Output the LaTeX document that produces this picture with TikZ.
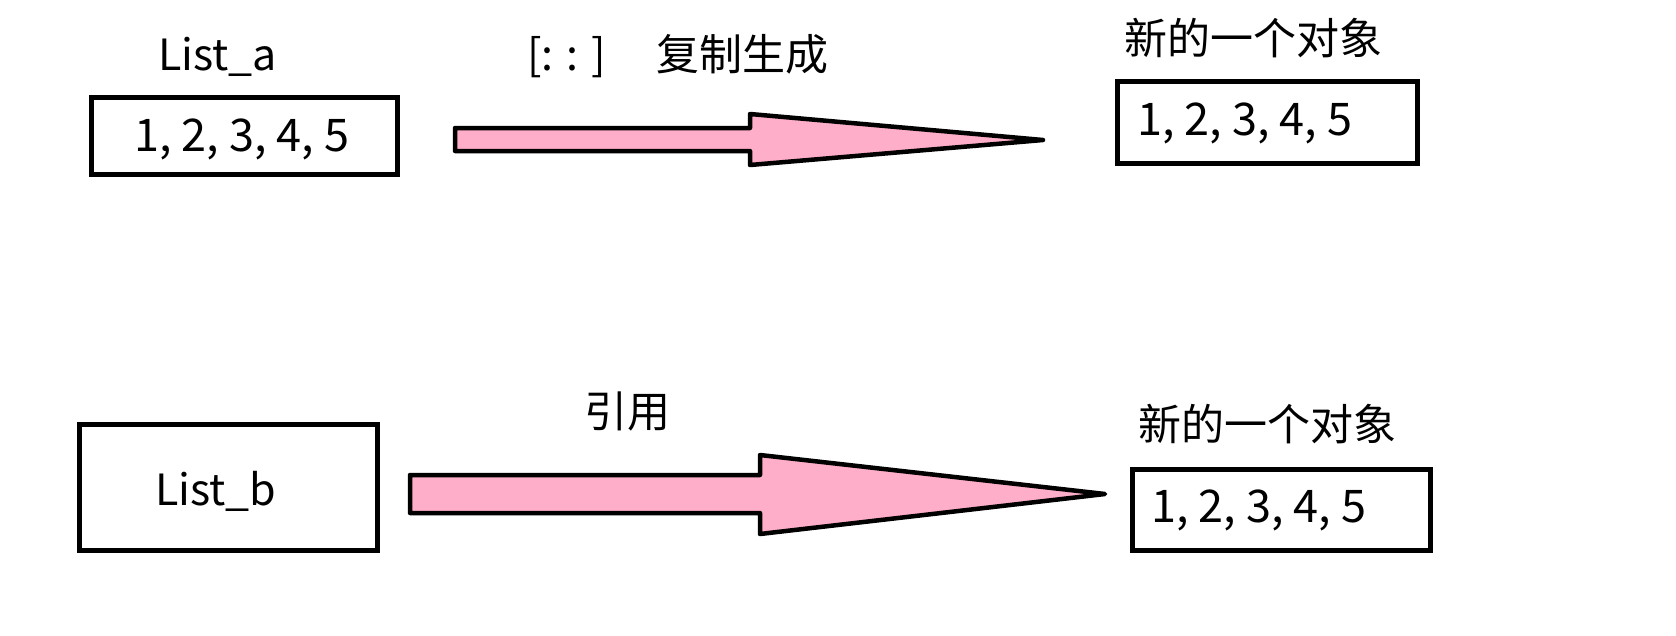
\documentclass[tikz,border=0pt]{standalone}
\usepackage{fontspec}
\setmainfont{Noto Sans CJK SC}
\definecolor{arrowpink}{RGB}{255,174,201}
\begin{document}
\begin{tikzpicture}[x=1pt,y=-1pt,
  lbl/.style={inner sep=0pt,anchor=base west,font=\fontsize{43}{50}\selectfont},
  num/.style={inner sep=0pt,anchor=base west,font=\fontsize{45}{52}\selectfont},
  frame/.style={draw=black,line width=5pt},
  blockarrow/.style={draw=black,fill=arrowpink,line width=4.5pt,line join=round}]
\path[use as bounding box,fill=white] (0,0) rectangle (1676,635);

% top row
\node[lbl] (lista) at (158,70) {List\_a};
\draw[frame] (91.5,97.5) rectangle (397.5,174.5);
\node[num] (numa) at (134,151) {1, 2, 3, 4, 5};

\node[lbl] (slice) at (527,70) {[: : ]};
\node[lbl] (copy) at (656,70) {复制生成};

\node[lbl] (newa) at (1124,54) {新的一个对象};
\draw[frame] (1117.5,81.5) rectangle (1417.5,163.5);
\node[num] (numc) at (1137,135) {1, 2, 3, 4, 5};

\coordinate (a1) at (455,128);
\coordinate (a2) at (750,128);
\coordinate (a3) at (750,114);
\coordinate (atip) at (1043,140);
\coordinate (a4) at (750,165);
\coordinate (a5) at (750,151);
\coordinate (a6) at (455,151);
\draw[blockarrow] (a1) -- (a2) -- (a3) -- (atip) -- (a4) -- (a5) -- (a6) -- cycle;

% bottom row
\draw[frame] (79.5,424.5) rectangle (377.5,550.5);
\node[lbl] (listb) at (155,505) {List\_b};

\node[lbl] (ref) at (584,427) {引用};

\node[lbl] (newb) at (1138,440) {新的一个对象};
\draw[frame] (1132.5,469.5) rectangle (1430.5,550.5);
\node[num] (numd) at (1151,522) {1, 2, 3, 4, 5};

\coordinate (b1) at (410,475);
\coordinate (b2) at (760,475);
\coordinate (b3) at (760,455);
\coordinate (btip) at (1105,494);
\coordinate (b4) at (760,534);
\coordinate (b5) at (760,513);
\coordinate (b6) at (410,513);
\draw[blockarrow] (b1) -- (b2) -- (b3) -- (btip) -- (b4) -- (b5) -- (b6) -- cycle;
\end{tikzpicture}
\end{document}
